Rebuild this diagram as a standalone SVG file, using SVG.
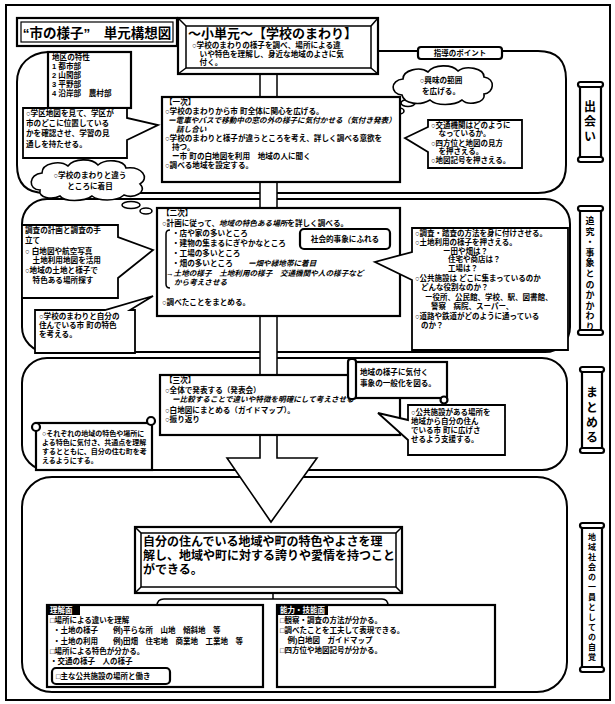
<svg xmlns="http://www.w3.org/2000/svg" width="615" height="704" viewBox="0 0 615 704">
<style>
.rg{fill:none;stroke:#000;stroke-width:2}
.bx{fill:#fff;stroke:#000;stroke-width:2.2}
.cl{fill:#fff;stroke:#000;stroke-width:1.8;stroke-linejoin:miter}
.th{fill:#fff;stroke:#000;stroke-width:1.6}
.ln{fill:none;stroke:#000;stroke-width:1.5}
text{font-family:"Liberation Sans","Noto Sans CJK JP",sans-serif;font-weight:bold;fill:#000}
.s{font-size:7.6px}
.xs{font-size:7.5px}
.i{font-style:italic}
.v{writing-mode:vertical-rl;font-family:"Noto Sans CJK JP",sans-serif}
.w{fill:#fff}
</style>
<rect width="615" height="704" fill="#fff"/>
<rect x="6" y="5" width="604" height="695" class="rg"/>

<g id="regions">
<path class="rg" d="M48,52 C30,53 17,64 17,82 V165 Q17,193 45,193 H538 Q566,193 566,165 V79 Q566,51 538,51 H378"/>
<rect class="rg" x="22" y="199" width="548" height="153" rx="25"/>
<rect class="rg" x="22" y="358" width="545" height="112" rx="25"/>
<rect class="rg" x="22" y="477" width="545" height="215" rx="30"/>
</g>

<g id="connectors">
<rect x="260" y="73" width="17" height="25" fill="#fff"/>
<path class="ln" d="M260,73 V98 M277,73 V98"/>
<rect x="260" y="181" width="17" height="28" fill="#fff"/>
<path class="ln" d="M260,181 V209 M277,181 V209"/>
<rect x="260" y="315" width="17" height="61" fill="#fff"/>
<path class="ln" d="M260,315 V376 M277,315 V376"/>
<path class="th" d="M260,434 V458 H227 L271,522 L317,458 H277 V434"/>
<ellipse class="th" cx="408" cy="103" rx="7" ry="3.5"/>
<ellipse class="th" cx="399" cy="111" rx="5" ry="3"/>
<ellipse class="th" cx="131" cy="205" rx="9" ry="3.5"/>
<ellipse class="th" cx="146" cy="211" rx="6" ry="3"/>
<path class="ln" d="M273,593 V599"/>
<path class="ln" d="M157,606 Q157,599 164,599 H382 Q388,599 388,606"/>
</g>

<g id="title">
<rect x="17" y="18" width="160" height="28" class="bx"/>
<rect x="21" y="22" width="152" height="20" fill="none" stroke="#000" stroke-width="1.2"/>
<text x="97" y="38" text-anchor="middle" style="font-size:13.5px">“市の様子”　単元構想図</text>
</g>

<g id="unit">
<rect x="178" y="18" width="200" height="56" class="bx"/>
<rect x="186" y="26" width="185" height="42" fill="none" stroke="#000" stroke-width="1.5"/>
<path d="M178,18 L186,26 M378,18 L371,26 M178,74 L186,68 M378,74 L371,68" class="ln"/>
<text x="188" y="38" style="font-size:13px">～小単元～【学校のまわり】</text>
<text x="192" y="48" class="s">○学校のまわりの様子を調べ、場所による違</text>
<text x="192" y="56.6" class="s">　いや特色を理解し、身近な地域のよさに気</text>
<text x="192" y="65.2" class="s">　付く。</text>
</g>

<g id="point-label">
<rect x="418" y="47" width="84" height="12" rx="3" class="bx"/>
<text x="460" y="56" text-anchor="middle" class="xs">指導のポイント</text>
</g>

<g id="district">
<rect x="48" y="52" width="83" height="56" class="bx"/>
<text x="52" y="60" class="s">地区の特性</text>
<text x="52" y="69" class="s">1 都市部</text>
<text x="52" y="78" class="s">2 山間部</text>
<text x="52" y="87" class="s">3 平野部</text>
<text x="52" y="96" class="s">4 沿岸部　農村部</text>
</g>

<g id="callout-l1">
<path class="cl" d="M23,108 H127 V118 L158,125 L127,140 V158 H23 Z"/>
<text x="26" y="116" class="s">○学区地図を見て、学区が</text>
<text x="26" y="126" class="s">市のどこに位置している</text>
<text x="26" y="136" class="s">かを確認させ、学習の見</text>
<text x="26" y="147" class="s">通しを持たせる。</text>
</g>

<g id="cloud-l">
<path class="th" d="M40,190 C28,190 28,174 42,173 C42,163 60,160 68,166 C74,158 92,158 98,165 C106,158 124,160 126,168 C142,166 150,178 140,184 C148,192 134,199 124,195 C116,202 98,201 92,196 C84,202 64,202 60,196 C52,200 38,198 40,190 Z"/>
<text x="90" y="178" text-anchor="middle" class="s">○学校のまわりと違う</text>
<text x="90" y="189" text-anchor="middle" class="s">ところに着目</text>
</g>

<g id="cloud-r">
<path class="th" d="M402,95 C390,94 390,80 403,79 C403,70 420,66 428,72 C434,64 452,64 458,71 C466,65 484,68 484,77 C496,79 494,93 484,94 C486,103 468,106 462,100 C454,106 436,106 430,100 C420,106 404,104 402,95 Z"/>
<text x="441" y="83" text-anchor="middle" class="s">○興味の範囲</text>
<text x="441" y="94" text-anchor="middle" class="s">を広げる。</text>
</g>

<g id="step1">
<rect x="162" y="97" width="238" height="85" class="bx"/>
<text x="165" y="105" class="s">【一次】</text>
<text x="165" y="114" class="s">○学校のまわりから市 町全体に関心を広げる。</text>
<text x="168" y="123" class="s i">ー電車やバスで移動中の窓の外の様子に気付かせる（気付き発表）</text>
<text x="176" y="132" class="s i">話し合い</text>
<text x="165" y="141" class="s">○学校のまわりと様子が違うところを考え、詳しく調べる意欲を</text>
<text x="172" y="150" class="s">持つ。</text>
<text x="172" y="159" class="s">ー市 町の白地図を利用　地域の人に聞く</text>
<text x="165" y="168" class="s">○調べる地域を設定する。</text>
</g>

<g id="callout-r1">
<path class="cl" d="M428,120 H522 V168 H428 V152 L405,138 L428,127 Z"/>
<text x="431" y="127.5" class="xs">○交通機関はどのように</text>
<text x="431" y="136" class="xs">　なっているか。</text>
<text x="431" y="145.5" class="xs">○四方位と地図の見方</text>
<text x="431" y="154" class="xs">　を押さえる。</text>
<text x="431" y="163" class="xs">○地図記号を押さえる。</text>
</g>

<g id="side1">
<rect x="580" y="85" width="21" height="74" class="bx" stroke-width="2.5"/>
<rect x="578" y="82" width="25" height="5" rx="2.5" class="bx"/>
<rect x="578" y="157" width="25" height="5" rx="2.5" class="bx"/>
<text x="590" y="100" class="v" style="font-size:12px;letter-spacing:3px">出会い</text>
</g>

<g id="step2">
<rect x="157" y="208" width="243" height="108" class="bx"/>
<text x="162" y="216" class="s">【二次】</text>
<text x="162" y="226" class="s">○計画に従って、<tspan class="i">地域の特色ある場所</tspan>を詳しく調べる。</text>
<path class="ln" d="M170,230 Q166,230 166,234 V284 Q166,288 170,288"/>
<text x="172" y="236" class="s">・店や家の多いところ</text>
<text x="172" y="246" class="s">・建物の集まるにぎやかなところ</text>
<text x="172" y="256" class="s">・工場の多いところ</text>
<text x="172" y="266" class="s">・畑の多いところ　　<tspan class="i">ー畑や緑地帯に着目</tspan></text>
<text x="166" y="276" class="s i">→土地の様子　土地利用の様子　交通機関や人の様子など</text>
<text x="174" y="285" class="s i">から考えさせる</text>
<text x="162" y="305" class="s">○調べたことをまとめる。</text>
</g>

<g id="social">
<rect x="300" y="229" width="90" height="20" rx="4" class="bx"/>
<text x="345" y="242" text-anchor="middle" class="s">社会的事象にふれる</text>
</g>

<g id="callout-l2">
<path class="cl" d="M22,225 H118 V237 L153,250 L118,278 V298 H22 Z"/>
<text x="25" y="233" class="s">調査の計画と調査の手</text>
<text x="25" y="243" class="s">立て</text>
<text x="25" y="254" class="s">○ 白地図や航空写真</text>
<text x="25" y="263" class="s">　土地利用地図を活用</text>
<text x="25" y="273" class="s">○地域の土地と様子で</text>
<text x="25" y="283" class="s">　特色ある場所探す</text>
</g>

<g id="callout-l3">
<path class="cl" d="M35,310 H105 L153,296 L130,310 H135 V353 H35 Z"/>
<text x="39" y="319" class="s">○学校のまわりと自分の</text>
<text x="39" y="328" class="s">住んでいる市 町の特色</text>
<text x="39" y="337" class="s">を考える。</text>
</g>

<g id="callout-r2">
<path class="cl" d="M412,228 H568 V350 H412 V280 L375,262 L412,252 Z"/>
<text x="415" y="236" class="xs">○調査・踏査の方法を身に付けさせる。</text>
<text x="415" y="245" class="xs">○土地利用の様子を押さえる。</text>
<text x="443" y="253.5" class="xs">ー田や畑は？</text>
<text x="448" y="262" class="xs">住宅や商店は？</text>
<text x="448" y="270.5" class="xs">工場は？</text>
<text x="415" y="281" class="xs">○公共施設は どこに集まっているのか</text>
<text x="421" y="290" class="xs">どんな役割なのか？</text>
<text x="425" y="299.5" class="xs">ー役所、公民館、学校、駅、図書館、</text>
<text x="431" y="308.5" class="xs">警察　病院、スーパー、</text>
<text x="415" y="318.5" class="xs">○道路や鉄道がどのように通っている</text>
<text x="421" y="327.5" class="xs">のか？</text>
</g>

<g id="side2">
<rect x="580" y="209" width="21" height="123" class="bx" stroke-width="2.5"/>
<rect x="578" y="206" width="25" height="5" rx="2.5" class="bx"/>
<rect x="578" y="330" width="25" height="5" rx="2.5" class="bx"/>
<text x="590" y="216" class="v" style="font-size:9px;letter-spacing:1.6px">追究・事象とのかかわり</text>
</g>

<g id="step3">
<rect x="160" y="375" width="240" height="60" class="bx"/>
<text x="165" y="383" class="s">【三次】</text>
<text x="165" y="393" class="s">○全体で発表する（発表会）</text>
<text x="172" y="402" class="s i">ー比較することで違いや特徴を明確にして考えさせる</text>
<text x="165" y="413" class="s">○白地図にまとめる（ガイドマップ）。</text>
<text x="165" y="422" class="s">○振り返り</text>
</g>

<g id="scroll-general">
<rect x="354" y="362" width="93" height="36" class="bx"/>
<rect x="348" y="359" width="8" height="40" rx="3" class="bx"/>
<circle cx="444" cy="400" r="3.5" class="bx"/>
<text x="360" y="375" class="s">地域の様子に気付く</text>
<text x="360" y="386" class="s">事象の一般化を図る。</text>
</g>

<g id="callout-r3">
<path class="cl" d="M408,405 H505 V455 H408 V440 L378,413 L408,420 Z"/>
<text x="411" y="415" class="xs">○公共施設がある場所を</text>
<text x="411" y="424" class="xs">地域から自分の住ん</text>
<text x="411" y="433" class="xs">でいる市 町に広げさ</text>
<text x="411" y="442" class="xs">せるよう支援する。</text>
</g>

<g id="scroll-left">
<rect x="36" y="423" width="116" height="47" class="bx"/>
<circle cx="151" cy="421" r="4" class="bx"/>
<circle cx="36" cy="427" r="4" class="bx"/>
<text x="42" y="436" style="font-size:7px">○それぞれの地域の特色や場所に</text>
<text x="42" y="445" style="font-size:7px">よる特色に気付き、共通点を理解</text>
<text x="42" y="454" style="font-size:7px">するとともに、自分の住む町を考</text>
<text x="42" y="463" style="font-size:7px">えるようにする。</text>
</g>

<g id="side3">
<rect x="582" y="370" width="20" height="80" class="bx" stroke-width="2.5"/>
<rect x="580" y="367" width="24" height="5" rx="2.5" class="bx"/>
<rect x="580" y="448" width="24" height="5" rx="2.5" class="bx"/>
<text x="592" y="386" class="v" style="font-size:12px;letter-spacing:3px">まとめる</text>
</g>

<g id="goal">
<rect x="135" y="527" width="267" height="66" class="bx"/>
<rect x="141" y="533" width="255" height="54" fill="none" stroke="#000" stroke-width="1.5"/>
<path d="M135,527 L141,533 M402,527 L396,533 M135,593 L141,587 M402,593 L396,587" class="ln"/>
<text x="143" y="546" style="font-size:12px">自分の住んでいる地域や町の特色やよさを理</text>
<text x="143" y="560" style="font-size:12px">解し、地域や町に対する誇りや愛情を持つこと</text>
<text x="143" y="574" style="font-size:12px">ができる。</text>
</g>

<g id="understanding">
<rect x="47" y="605" width="216" height="82" class="bx"/>
<rect x="48" y="606" width="32" height="9" fill="#000"/>
<text x="50" y="613" class="xs w">理解面</text>
<text x="50" y="623" class="xs">□場所による違いを理解</text>
<text x="53" y="633" class="xs">・土地の様子　　例)平らな所　山地　傾斜地　等</text>
<text x="53" y="644" class="xs">・土地の利用　　例)田畑　住宅地　商業地　工業地　等</text>
<text x="50" y="654" class="xs">□場所による特色が分かる。</text>
<text x="50" y="664" class="xs">・交通の様子　人の様子</text>
<rect x="52" y="668" width="118" height="16" rx="4" class="bx" stroke-width="1.8"/>
<text x="56" y="679" class="xs">□主な公共施設の場所と働き</text>
</g>

<g id="skills">
<rect x="277" y="605" width="218" height="82" class="bx"/>
<rect x="278" y="606" width="50" height="9" fill="#000"/>
<text x="280" y="613" class="xs w">能力・技能面</text>
<text x="280" y="623" class="xs">□観察・調査の方法が分かる。</text>
<text x="280" y="633" class="xs">□調べたことを工夫して表現できる。</text>
<text x="280" y="643" class="xs">　例)白地図　ガイドマップ</text>
<text x="280" y="653" class="xs">□四方位や地図記号が分かる。</text>
</g>

<g id="side4">
<rect x="582" y="526" width="20" height="143" class="bx" stroke-width="2.5"/>
<rect x="580" y="523" width="24" height="5" rx="2.5" class="bx"/>
<rect x="580" y="667" width="24" height="5" rx="2.5" class="bx"/>
<text x="592" y="533" class="v" style="font-size:8px;letter-spacing:2px">地域社会の一員としての自覚</text>
</g>
</svg>
